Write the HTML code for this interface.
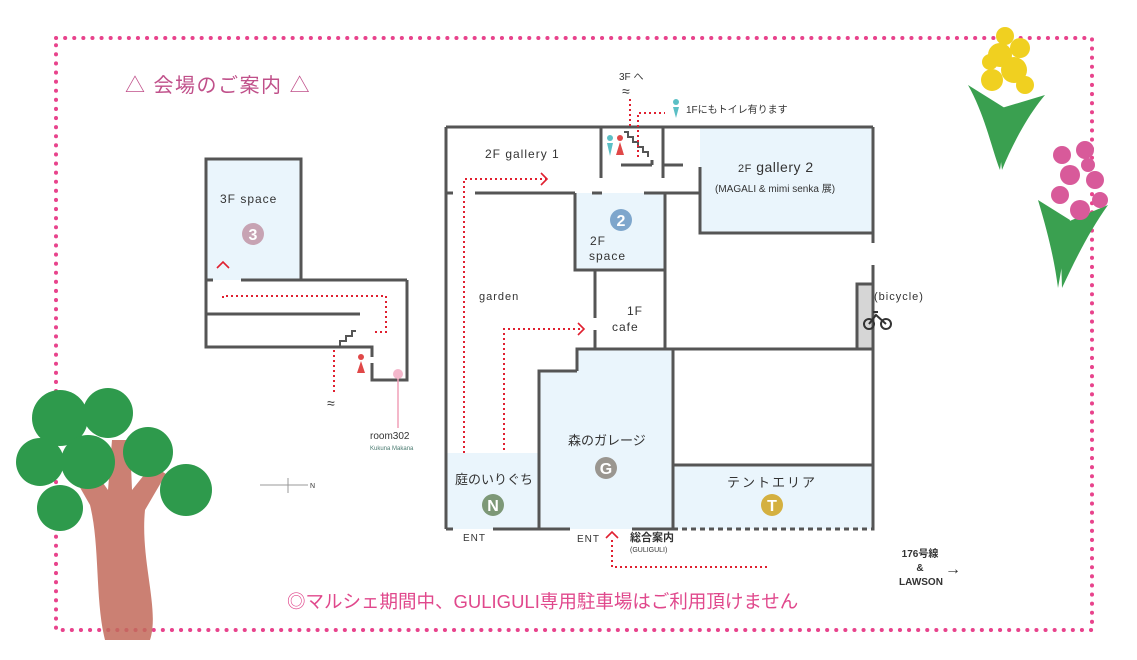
<!DOCTYPE html>
<html><head><meta charset="utf-8"><style>
html,body{margin:0;padding:0;background:#fff}
svg{display:block}
text{font-family:"Liberation Sans","Noto Sans CJK JP",sans-serif;fill:#333}
</style></head><body>
<svg width="1137" height="660" viewBox="0 0 1137 660">
<!-- border -->
<rect x="56" y="38" width="1036" height="592" fill="none" stroke="#e8438c" stroke-width="4" stroke-dasharray="0.1 9" stroke-linecap="round"/>
<text x="125" y="92" font-size="20" style="fill:#c0508a" letter-spacing="1.5">△ 会場のご案内 △</text>

<!-- fills -->
<g fill="#eaf5fc">
<rect x="206" y="159" width="95" height="121"/>
<rect x="700" y="127" width="173" height="106"/>
<rect x="575" y="193" width="90" height="77"/>
<polygon points="539,371 576,371 576,349 673,349 673,529 539,529"/>
<rect x="446" y="453" width="93" height="76"/>
<rect x="673" y="465" width="200" height="64"/>
</g>
<rect x="857" y="284" width="16" height="65" fill="#d6d6d6"/>

<g stroke="#555" stroke-width="3" fill="none">
<!-- 3F building -->
<polyline points="206,280 206,159 301,159 301,280"/>
<line x1="206" y1="280" x2="213" y2="280"/><line x1="241" y1="280" x2="407" y2="280"/>
<polyline points="206,280 206,347 372,347 372,357"/>
<polyline points="372,363 372,380 407,380 407,280"/>
<line x1="206" y1="314" x2="360" y2="314"/>
<polyline points="340,347 340,341 346,341 346,336 352,336 352,331 356,331" stroke-width="2"/>
<!-- main building -->
<line x1="446" y1="127" x2="873" y2="127"/>
<line x1="446" y1="127" x2="446" y2="529"/>
<line x1="873" y1="127" x2="873" y2="243"/>
<line x1="873" y1="265" x2="873" y2="529" />
<polyline points="601,127 601,178"/>
<polyline points="663,127 663,178"/>
<line x1="621" y1="165" x2="652" y2="165"/>
<line x1="652" y1="160" x2="652" y2="165"/>
<line x1="663" y1="165" x2="683" y2="165"/>
<polyline points="700,167 700,233 873,233"/>
<line x1="446" y1="193" x2="453" y2="193"/>
<line x1="475" y1="193" x2="575" y2="193"/>
<line x1="592" y1="193" x2="602" y2="193"/>
<line x1="644" y1="193" x2="700" y2="193"/>
<polyline points="575,193 575,270 665,270"/>
<line x1="665" y1="193" x2="665" y2="349"/>
<line x1="595" y1="270" x2="595" y2="318"/>
<line x1="595" y1="330" x2="595" y2="349"/>
<polyline points="857,349 857,284 873,284"/>
<polyline points="577,371 539,371 539,529"/>
<polyline points="577,371 577,349 873,349"/>
<line x1="673" y1="349" x2="673" y2="529"/>
<line x1="673" y1="465" x2="873" y2="465"/>
<line x1="446" y1="529" x2="453" y2="529"/>
<line x1="493" y1="529" x2="570" y2="529"/>
<line x1="632" y1="529" x2="673" y2="529"/>
<polyline points="673,529 873,529 873,465" stroke-dasharray="5 4"/>
<polyline points="624,132 628,132 628,137 633,137 633,142 638,142 638,147 643,147 643,152 648,152 648,157" stroke-width="2"/>
</g>

<!-- red dotted paths -->
<g stroke="#e02030" stroke-width="2" fill="none" stroke-dasharray="2 3">
<polyline points="223,298 223,296 386,296 386,332 373,332"/>
<polyline points="334,350 334,395"/>
<polyline points="464,453 464,179 546,179"/>
<polyline points="504,450 504,329 582,329"/>
<polyline points="630,126 630,98"/>
<polyline points="638,157 638,113 665,113"/>
<polyline points="612,540 612,567 770,567"/>
</g>
<g stroke="#e02030" stroke-width="1.6" fill="none">
<polyline points="541,173 547,179 541,185"/>
<polyline points="578,323 584,329 578,335"/>
<polyline points="217,268 223,262 229,268"/>
<polyline points="606,538 612,532 618,538"/>
</g>
<line x1="398" y1="375" x2="398" y2="428" stroke="#f0a0b8" stroke-width="1.5"/>
<circle cx="398" cy="374" r="5" fill="#f4b8cc"/>

<!-- toilets -->
<g>
<circle cx="610" cy="138" r="3" fill="#5bbfc5"/><polygon points="607,143 613,143 610,156" fill="#5bbfc5"/>
<circle cx="620" cy="138" r="3" fill="#e04848"/><polygon points="620,142 616,155 624,155" fill="#e04848"/>
<circle cx="676" cy="102" r="3" fill="#5bbfc5"/><polygon points="673,107 679,107 676,118" fill="#5bbfc5"/>
<circle cx="361" cy="357" r="3" fill="#e04848"/><polygon points="361,361 357,373 365,373" fill="#e04848"/>
</g>

<!-- badges -->
<circle cx="253" cy="234" r="11" fill="#c7a3b3"/><text x="253" y="240" font-size="16" text-anchor="middle" style="fill:#fff" font-weight="bold">3</text>
<circle cx="621" cy="220" r="11" fill="#7ea6cc"/><text x="621" y="226" font-size="16" text-anchor="middle" style="fill:#fff" font-weight="bold">2</text>
<circle cx="606" cy="468" r="11" fill="#9a9690"/><text x="606" y="474" font-size="16" text-anchor="middle" style="fill:#fff" font-weight="bold">G</text>
<circle cx="493" cy="505" r="11" fill="#7d9877"/><text x="493" y="511" font-size="16" text-anchor="middle" style="fill:#fff" font-weight="bold">N</text>
<circle cx="772" cy="505" r="11" fill="#d4b040"/><text x="772" y="511" font-size="16" text-anchor="middle" style="fill:#fff" font-weight="bold">T</text>

<!-- bicycle -->
<g stroke="#333" stroke-width="2" fill="none">
<circle cx="869" cy="324" r="5"/><circle cx="886" cy="324" r="5"/>
<polyline points="869,324 876,315 886,324"/><line x1="873" y1="312" x2="878" y2="312"/>
</g>

<!-- labels -->
<g font-size="12">
<text x="220" y="203" letter-spacing="1">3F space</text>
<text x="485" y="158" letter-spacing="1">2F gallery 1</text>
<text x="738" y="172" font-size="14" letter-spacing="0.5"><tspan font-size="11">2F</tspan> gallery 2</text>
<text x="715" y="192" font-size="10">(MAGALI &amp; mimi senka 展)</text>
<text x="590" y="245" letter-spacing="1">2F</text>
<text x="589" y="260" letter-spacing="1">space</text>
<text x="479" y="300" font-size="11" letter-spacing="1">garden</text>
<text x="627" y="315" letter-spacing="1">1F</text>
<text x="612" y="331" letter-spacing="1">cafe</text>
<text x="874" y="300" font-size="11" letter-spacing="1">(bicycle)</text>
<text x="568" y="445" font-size="13">森のガレージ</text>
<text x="455" y="484" font-size="13">庭のいりぐち</text>
<text x="727" y="487" font-size="13" letter-spacing="2">テントエリア</text>
<text x="463" y="541" font-size="10" letter-spacing="1">ENT</text>
<text x="577" y="542" font-size="10" letter-spacing="1">ENT</text>
<text x="630" y="541" font-size="11" font-weight="bold">総合案内</text>
<text x="630" y="552" font-size="7">(GULIGULI)</text>
<text x="619" y="80" font-size="10">3F へ</text>
<text x="622" y="96" font-size="14">≈</text>
<text x="686" y="113" font-size="10">1Fにもトイレ有ります</text>
<text x="327" y="408" font-size="14">≈</text>
<text x="370" y="439" font-size="10">room302</text>
<text x="370" y="450" font-size="6" style="fill:#4a7a70">Kukuna Makana</text>
<text x="920" y="557" font-size="10" font-weight="bold" text-anchor="middle">176号線</text>
<text x="920" y="571" font-size="10" font-weight="bold" text-anchor="middle">&amp;</text>
<text x="921" y="585" font-size="10" font-weight="bold" text-anchor="middle">LAWSON</text>
<text x="945" y="574" font-size="16">→</text>
<text x="310" y="488" font-size="7">N</text>
<text x="287" y="608" font-size="18.5" style="fill:#e0488c">◎マルシェ期間中、GULIGULI専用駐車場はご利用頂けません</text>
</g>
<line x1="260" y1="485" x2="308" y2="485" stroke="#999" stroke-width="1"/>
<line x1="288" y1="478" x2="288" y2="493" stroke="#999" stroke-width="1"/>

<!-- tree -->
<path d="M105,640 C95,600 100,545 90,505 L70,470 L88,462 L108,490 L112,440 L130,440 L132,490 L152,465 L166,474 L145,510 C140,560 160,610 150,640 Z" fill="#c26a5a" opacity="0.85"/>
<g fill="#2e9a4c">
<circle cx="60" cy="418" r="28"/><circle cx="108" cy="413" r="25"/><circle cx="40" cy="462" r="24"/>
<circle cx="88" cy="462" r="27"/><circle cx="148" cy="452" r="25"/><circle cx="60" cy="508" r="23"/>
<circle cx="186" cy="490" r="26"/>
</g>
<!-- flowers -->
<path d="M968,85 C985,115 992,150 1000,170 L1008,110 Z" fill="#3aa050"/>
<path d="M1045,95 C1028,115 1012,145 1002,170 L995,110 Z" fill="#3aa050"/>
<g fill="#f0d020"><circle cx="1000" cy="55" r="12"/><circle cx="1014" cy="70" r="13"/><circle cx="992" cy="80" r="11"/><circle cx="1020" cy="48" r="10"/><circle cx="1005" cy="36" r="9"/><circle cx="1025" cy="85" r="9"/><circle cx="990" cy="62" r="8"/></g>
<path d="M1038,200 C1050,240 1055,265 1058,288 L1070,220 Z" fill="#3aa050"/>
<path d="M1108,205 C1090,230 1075,260 1062,288 L1060,225 Z" fill="#3aa050"/>
<g fill="#d85a9a"><circle cx="1062" cy="155" r="9"/><circle cx="1085" cy="150" r="9"/><circle cx="1070" cy="175" r="10"/><circle cx="1095" cy="180" r="9"/><circle cx="1060" cy="195" r="9"/><circle cx="1080" cy="210" r="10"/><circle cx="1100" cy="200" r="8"/><circle cx="1088" cy="165" r="7"/></g>
</svg>
</body></html>
